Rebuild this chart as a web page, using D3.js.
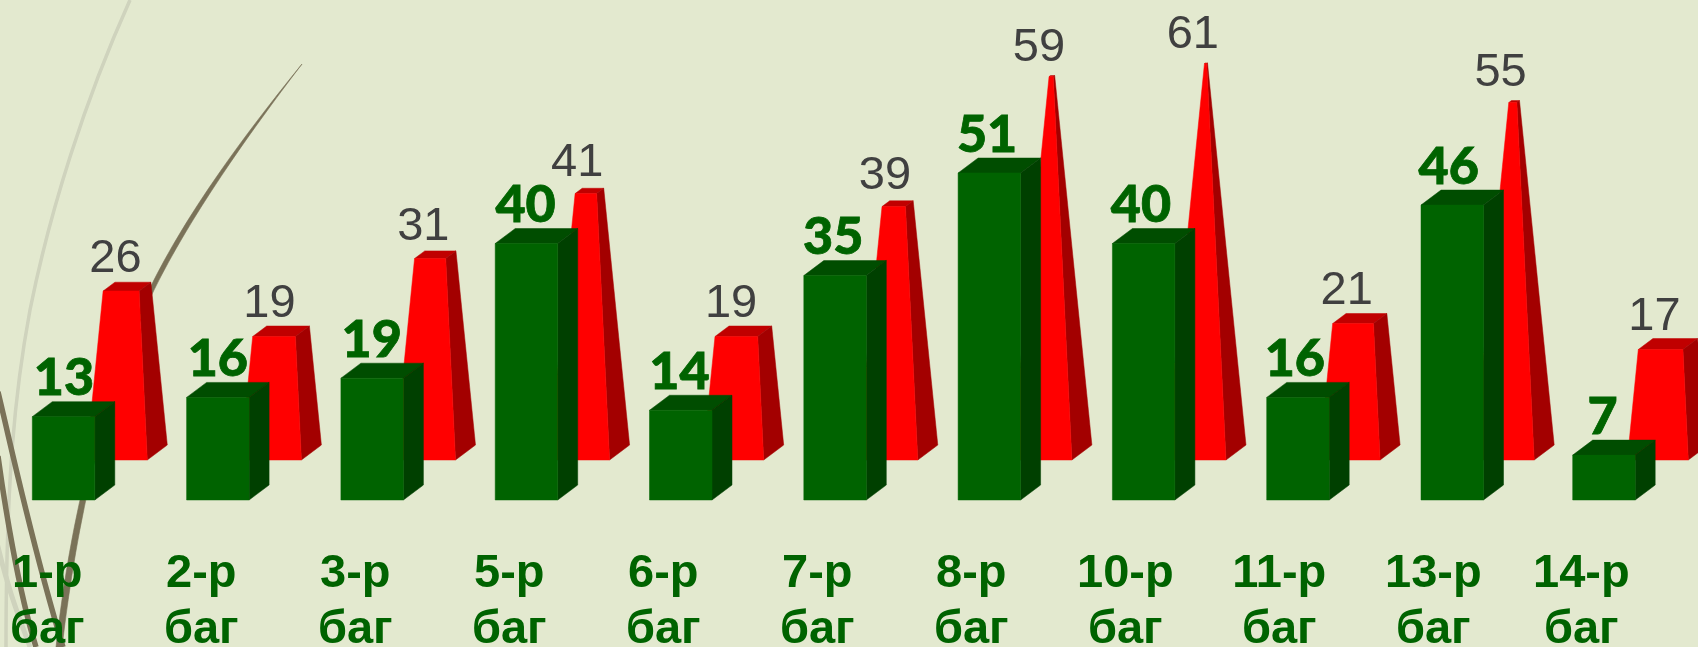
<!DOCTYPE html>
<html><head><meta charset="utf-8">
<style>html,body{margin:0;padding:0;background:#e3e9cf;overflow:hidden}svg{display:block}</style>
<script src="https://cdnjs.cloudflare.com/ajax/libs/d3/7.8.5/d3.min.js"></script>
</head><body><svg id="c" width="1698" height="647"></svg>
<script>
const categories=["1-р баг","2-р баг","3-р баг","5-р баг","6-р баг","7-р баг","8-р баг","10-р баг","11-р баг","13-р баг","14-р баг"];
const greenValues=[13,16,19,40,14,35,51,40,16,46,7];
const redValues=[26,19,31,41,19,39,59,61,21,55,17];
const svg=d3.select("#c");
const defs=svg.append("defs");
defs.append("filter").attr("id","soft").attr("filterUnits","userSpaceOnUse").attr("x",0).attr("y",0).attr("width",1698).attr("height",647)
  .append("feGaussianBlur").attr("stdDeviation",0.5);
const x=d3.scalePoint().domain(categories).range([32.3,32.3+10*154.3]);
const xRed=d3.scalePoint().domain(categories).range([86.3,86.3+10*154.1]);
const xGreenLabel=d3.scalePoint().domain(categories).range([64,64+10*153.85]);
const xRedLabel=d3.scalePoint().domain(categories).range([115.5,115.5+10*153.9]);
const xAxisLabel=d3.scalePoint().domain(categories).range([46.8,46.8+10*154]);
const last=categories[categories.length-1];
const px=c=>x(c)-(c===last?2.6:0);
const yG=d3.scaleLinear().domain([0,51]).range([500,173]);
const yR=d3.scaleLinear().domain([0,63.4]).range([460,48]);
const yRLabel=d3.scaleLinear().domain([0,61]).range([438.6,48]);
const fw=62.5,dx=20,dy=15,redW=61;
const root=svg.append("g").attr("filter","url(#soft)");

// decorative background grasses
const bg=root.append("g");
bg.append("path").attr("d","M130,0 C85,100 50,210 30,310 C15,390 6,480 6,647").attr("fill","none").attr("stroke","#cfd3bd").attr("stroke-width",3.5);
bg.append("path").attr("d","M-6,530 C6,585 20,620 30,647").attr("fill","none").attr("stroke","#cfd3bd").attr("stroke-width",5);
bg.append("path").attr("d","M302,64 C245,134 186,214 150,288 C100,395 70,520 56,647 L62,647 C77,520 104,396 154,290 C190,217 247,136 302,64Z").attr("fill","#7a7259").attr("stroke","#7a7259").attr("stroke-width",0.6);
bg.append("path").attr("d","M-2,392 C12,450 32,545 63,647").attr("fill","none").attr("stroke","#7a7259").attr("stroke-width",5.5);
bg.append("path").attr("d","M-2,456 C4,500 18,590 36,647").attr("fill","none").attr("stroke","#7a7259").attr("stroke-width",5.5);

const poly=(g,pts,fill)=>g.append("polygon").attr("points",pts.map(p=>p.join(",")).join(" ")).attr("fill",fill).attr("stroke",fill).attr("stroke-width",0.5);
const chart=root.append("g");
categories.forEach((c,i)=>{
  const g=chart.append("g");
  const fx=px(c);
  // red tapered column
  const v=redValues[i], x0=xRed(c), yb=yR(0), yt=yR(v);
  const k=(yb-yt)/412, t=1-k;
  const lt=x0+41*k, rt=x0+redW-20*k;
  const bdx=dx*t, bdy=dy*t;
  poly(g,[[lt,yt],[rt,yt],[rt+bdx,yt-bdy],[lt+bdx,yt-bdy]],"#c00000");
  poly(g,[[rt,yt],[x0+redW,yb],[x0+redW+dx,yb-dy],[rt+bdx,yt-bdy]],"#a30000");
  poly(g,[[x0,yb],[x0+redW,yb],[rt,yt],[lt,yt]],"#ff0000");
  g.append("text").attr("x",xRedLabel(c)).attr("y",yRLabel(v)).attr("text-anchor","middle")
    .attr("font-family","'Liberation Sans',Arial,sans-serif").attr("font-size",47).attr("fill","#404040").text(v);
  // green box
  const gv=greenValues[i], ty=yG(gv), by=yG(0);
  poly(g,[[fx,ty],[fx+fw,ty],[fx+fw+dx,ty-dy],[fx+dx,ty-dy]],"#004d00");
  poly(g,[[fx+fw,ty],[fx+fw,by],[fx+fw+dx,by-dy],[fx+fw+dx,ty-dy]],"#004000");
  poly(g,[[fx,ty],[fx+fw,ty],[fx+fw,by],[fx,by]],"#006400");
  g.append("text").attr("x",xGreenLabel(c)).attr("y",ty-dy-6.5).attr("text-anchor","middle")
    .attr("font-family","Lato,sans-serif").attr("font-weight",900).attr("font-size",52)
    .attr("fill","#006400").attr("stroke","#006400").attr("stroke-width",0.8).text(gv);
});

// category axis
const ax=root.append("g").call(d3.axisBottom(xAxisLabel).tickSize(0));
ax.select(".domain").remove();
ax.selectAll(".tick text").each(function(d){
  const t=d3.select(this).text("").attr("y",null).attr("dy",null).attr("text-anchor","middle")
    .attr("font-family","'Liberation Sans',Arial,sans-serif").attr("font-weight",700).attr("font-size",47).attr("fill","#006400");
  const shift=d===last?-6:0;
  d.split(" ").forEach((w,j)=>t.append("tspan").attr("x",shift).attr("y",586.7+j*56).text(w));
});
</script></body></html>
